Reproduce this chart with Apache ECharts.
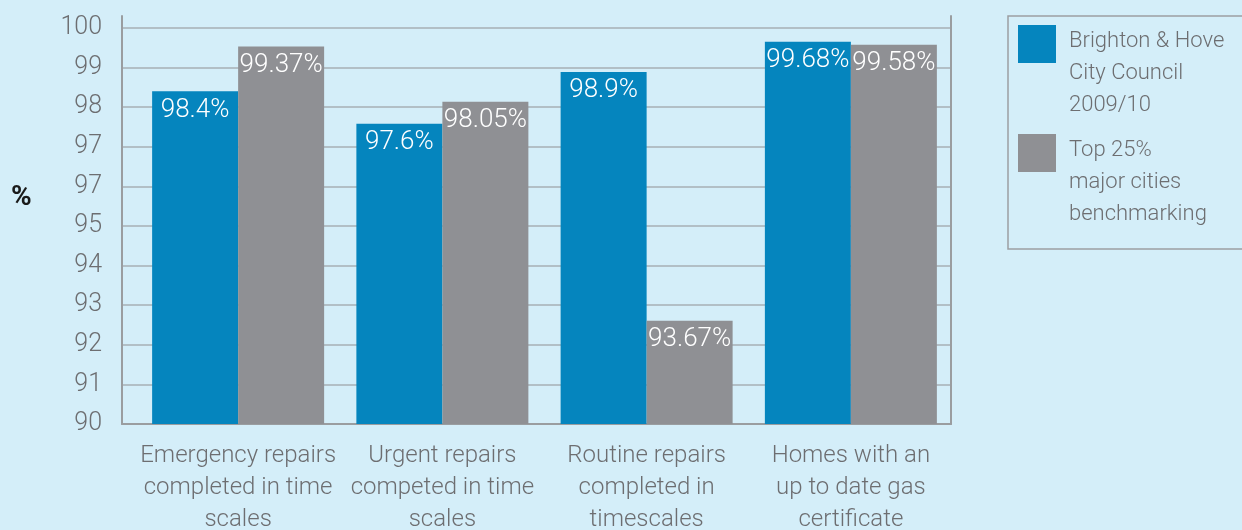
<!DOCTYPE html>
<html>
<head>
<meta charset="utf-8">
<script src="https://cdn.jsdelivr.net/npm/echarts@6/dist/echarts.min.js"></script>
<style>
html,body{margin:0;padding:0;background:#d4eef9;}
#c{width:1242px;height:530px;}
</style>
</head>
<body>
<div id="c"></div>
<script>
const categories = [
  'Emergency repairs\ncompleted in time\nscales',
  'Urgent repairs\ncompeted in time\nscales',
  'Routine repairs\ncompleted in\ntimescales',
  'Homes with an\nup to date gas\ncertificate'
];
const seriesNames = ['Brighton & Hove\nCity Council\n2009/10', 'Top 25%\nmajor cities\nbenchmarking'];
const brightonValues = [98.4, 97.58, 98.89, 99.65];
const top25Values = [99.53, 98.14, 92.61, 99.58];
const brightonLabels = ['98.4%', '97.6%', '98.9%', '99.68%'];
const top25Labels = ['99.37%', '98.05%', '93.67%', '99.58%'];
const yTickValues = [90, 91, 92, 93, 94, 95, 96, 97, 98, 99, 100];
const yTickLabels = ['90', '91', '92', '93', '94', '95', '97', '97', '98', '99', '100'];
const yAxisName = '%';

const FONT = 'Roboto, "Liberation Sans", sans-serif';
const WEIGHT = 300;
const TEXT_GRAY = '#6d6e71';
const AXIS_GRAY = '#9a9da0';
const GRID_GRAY = '#a7afb4';
const BLUE = '#0585be';
const GRAY = '#8f9094';

const chart = echarts.init(document.getElementById('c'), null, {renderer: 'canvas'});

const barLabel = (labels) => ({
  show: true,
  position: 'insideTop',
  distance: 6,
  color: '#ffffff',
  fontSize: 26,
  fontWeight: WEIGHT,
  fontFamily: FONT,
  formatter: (p) => labels[p.dataIndex]
});

chart.setOption({
  backgroundColor: '#d4eef9',
  animation: false,
  grid: [
    {left: 122, right: 291, top: 28, bottom: 106, outerBoundsMode: 'none'},
    {left: 136, right: 289, top: 28, bottom: 106, outerBoundsMode: 'none'},
    {left: 122, right: 291, top: 16, bottom: 106, outerBoundsMode: 'none'}
  ],
  xAxis: [
    {gridIndex: 0, type: 'category', data: categories, show: false},
    {
      gridIndex: 1, type: 'category', data: categories,
      axisLine: {show: false}, axisTick: {show: false}, splitLine: {show: false},
      axisLabel: {
        interval: 0, margin: 16, color: TEXT_GRAY, fontSize: 24, lineHeight: 32,
        fontFamily: FONT, fontWeight: WEIGHT, hideOverlap: false
      }
    },
    {
      gridIndex: 2, type: 'value', min: 0, max: 1,
      axisLine: {show: true, onZero: false, lineStyle: {color: AXIS_GRAY, width: 2}},
      axisTick: {show: false}, axisLabel: {show: false}, splitLine: {show: false}
    }
  ],
  yAxis: [
    {
      gridIndex: 0, type: 'value', min: 90, max: 100, interval: 1,
      axisLine: {show: false}, axisTick: {show: false},
      splitLine: {show: true, lineStyle: {color: GRID_GRAY, width: 1.5}},
      axisLabel: {
        margin: 20, color: TEXT_GRAY, fontSize: 25, fontFamily: FONT, fontWeight: WEIGHT,
        formatter: (v) => { const i = yTickValues.indexOf(v); return i >= 0 ? yTickLabels[i] : ''; }
      }
    },
    {gridIndex: 1, type: 'value', min: 90, max: 100, show: false},
    {
      gridIndex: 2, type: 'value', position: 'left', min: 0, max: 1,
      axisLine: {show: true, onZero: false, lineStyle: {color: AXIS_GRAY, width: 2}},
      axisTick: {show: false}, axisLabel: {show: false}, splitLine: {show: false}
    },
    {
      gridIndex: 2, type: 'value', position: 'right', min: 0, max: 1,
      axisLine: {show: true, onZero: false, lineStyle: {color: AXIS_GRAY, width: 2}},
      axisTick: {show: false}, axisLabel: {show: false}, splitLine: {show: false}
    }
  ],
  legend: {
    orient: 'vertical',
    left: 1008,
    top: 16,
    align: 'left',
    padding: [9, 80, 19, 10],
    itemGap: 13,
    itemWidth: 38,
    itemHeight: 96,
    icon: 'path://M0,0H38V38H0Z M0,95.9L0.1,96',
    borderColor: '#9c9fa2',
    borderWidth: 1.5,
    selectedMode: false,
    textStyle: {
      color: TEXT_GRAY, fontSize: 22, lineHeight: 32, fontFamily: FONT, fontWeight: WEIGHT,
      padding: [0, 0, 0, 8]
    },
    itemStyle: {borderWidth: 0},
    data: seriesNames
  },
  graphic: [
    {
      type: 'text', left: 11, top: 184,
      style: {text: yAxisName, fontSize: 28, fontWeight: 'bold', fill: '#1a1a1a', fontFamily: FONT}
    }
  ],
  series: [
    {
      name: seriesNames[0], type: 'bar', xAxisIndex: 1, yAxisIndex: 1,
      data: brightonValues, barWidth: 86, barGap: '0%',
      itemStyle: {color: BLUE},
      label: barLabel(brightonLabels)
    },
    {
      name: seriesNames[1], type: 'bar', xAxisIndex: 1, yAxisIndex: 1,
      data: top25Values, barWidth: 86, barGap: '0%',
      itemStyle: {color: GRAY},
      label: barLabel(top25Labels)
    }
  ]
});
</script>
</body>
</html>
